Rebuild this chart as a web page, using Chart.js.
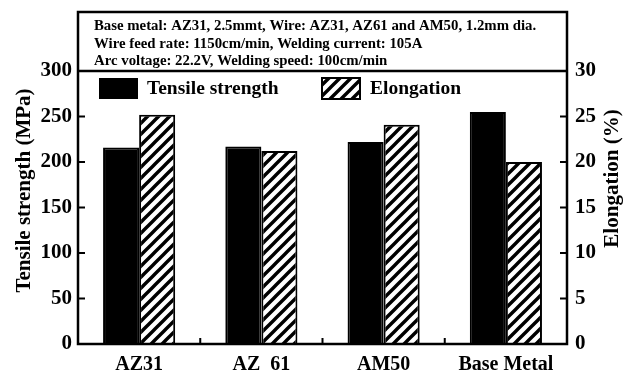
<!DOCTYPE html>
<html>
<head>
<meta charset="utf-8">
<script src="https://cdn.jsdelivr.net/npm/chart.js@4.4.1/dist/chart.umd.min.js"></script>
<style>
  html, body { margin: 0; padding: 0; background: #fff; }
  #weldChart { display: block; }
</style>
</head>
<body>
<canvas id="weldChart" width="631" height="370"></canvas>
<script>
// data
const wireTypes = ['AZ31', 'AZ  61', 'AM50', 'Base Metal'];
const tensileStrength = [216, 217, 222, 255];   // MPa, left axis
const elongation = [25.2, 21.2, 24.1, 20.0];    // %, right axis
const strengthTicks = [0, 50, 100, 150, 200, 250, 300];
const elongationTicks = [0, 5, 10, 15, 20, 25, 30];
const noteLines = [
  'Base metal: AZ31, 2.5mmt, Wire: AZ31, AZ61 and AM50, 1.2mm dia.',
  'Wire feed rate: 1150cm/min, Welding current: 105A',
  'Arc voltage: 22.2V, Welding speed: 100cm/min'
];

const serif = "'Liberation Serif', 'Times New Roman', serif";

// diagonal hatch for the elongation bars
function makeHatch() {
  const size = 11;
  const c = document.createElement('canvas');
  c.width = size; c.height = size;
  const g = c.getContext('2d');
  g.fillStyle = '#fff';
  g.fillRect(0, 0, size, size);
  g.strokeStyle = '#000';
  g.lineWidth = 3.4;
  g.beginPath();
  g.moveTo(-size / 2, size / 2); g.lineTo(size / 2, -size / 2);
  g.moveTo(0, size); g.lineTo(size, 0);
  g.moveTo(size / 2, size * 1.5); g.lineTo(size * 1.5, size / 2);
  g.stroke();
  return g.createPattern(c, 'repeat');
}

const ctx = document.getElementById('weldChart').getContext('2d');
const hatch = makeHatch();

// frame, inward ticks, note box, legend and axis titles
const decorPlugin = {
  id: 'decor',
  afterDraw(chart) {
    const c = chart.ctx;
    const a = chart.chartArea;
    const x = chart.scales.x, y = chart.scales.y, y1 = chart.scales.y1;
    const boxTop = a.top - 59;
    c.save();
    c.strokeStyle = '#000';
    c.lineWidth = 2.5;
    c.strokeRect(a.left, boxTop, a.right - a.left, a.bottom - boxTop);
    c.beginPath();
    c.moveTo(a.left, a.top); c.lineTo(a.right, a.top);
    c.stroke();

    // inward tick marks
    c.lineWidth = 2;
    c.beginPath();
    strengthTicks.forEach(v => {
      const py = y.getPixelForValue(v);
      c.moveTo(a.left, py); c.lineTo(a.left + 7, py);
    });
    elongationTicks.forEach(v => {
      const py = y1.getPixelForValue(v);
      c.moveTo(a.right, py); c.lineTo(a.right - 7, py);
    });
    for (let i = 1; i < wireTypes.length; i++) {
      const px = (x.getPixelForValue(i - 1) + x.getPixelForValue(i)) / 2;
      c.moveTo(px, a.bottom); c.lineTo(px, a.bottom - 6);
    }
    c.stroke();

    // note text
    c.fillStyle = '#000';
    c.font = 'bold 14.8px ' + serif;
    c.textBaseline = 'middle';
    c.textAlign = 'left';
    noteLines.forEach((t, i) => c.fillText(t, a.left + 16, boxTop + 14.5 + i * 17.5));

    // legend
    const ds = chart.data.datasets;
    const legY = a.top + 7;
    c.fillStyle = ds[0].backgroundColor;
    c.fillRect(a.left + 21, legY, 39, 21);
    c.fillStyle = ds[1].backgroundColor;
    c.fillRect(a.left + 244, legY, 38, 21);
    c.lineWidth = 2;
    c.strokeRect(a.left + 244, legY, 38, 21);
    c.fillStyle = '#000';
    c.font = 'bold 19.5px ' + serif;
    c.fillText(ds[0].label, a.left + 69, legY + 11);
    c.fillText(ds[1].label, a.left + 292, legY + 11);

    // axis titles
    c.font = 'bold 21px ' + serif;
    c.textAlign = 'center';
    const midY = (a.top + a.bottom) / 2;
    c.save();
    c.translate(a.left - 53, midY - 17);
    c.rotate(-Math.PI / 2);
    c.fillText('Tensile strength (MPa)', 0, 0);
    c.restore();
    c.save();
    c.translate(a.right + 46, midY - 29);
    c.rotate(-Math.PI / 2);
    c.fillText('Elongation (%)', 0, 0);
    c.restore();
    c.restore();
  }
};

const weldChart = new Chart(ctx, {
  type: 'bar',
  data: {
    labels: wireTypes,
    datasets: [
      {
        label: 'Tensile strength',
        data: tensileStrength,
        yAxisID: 'y',
        backgroundColor: '#000',
        borderColor: '#000',
        borderWidth: 2
      },
      {
        label: 'Elongation',
        data: elongation,
        yAxisID: 'y1',
        backgroundColor: hatch,
        borderColor: '#000',
        borderWidth: 2
      }
    ]
  },
  options: {
    responsive: false,
    animation: false,
    categoryPercentage: 0.59,
    barPercentage: 1.0,
    layout: { padding: { top: 71, left: 0, right: 0, bottom: 0 } },
    scales: {
      x: {
        grid: { display: false, drawTicks: false },
        border: { display: false },
        ticks: {
          color: '#000',
          padding: 9,
          maxRotation: 0,
          autoSkip: false,
          font: { family: serif, size: 20, weight: 'bold' }
        },
        afterFit(scale) { scale.height = 26; }
      },
      y: {
        position: 'left',
        min: 0,
        max: 300,
        grid: { display: false, drawTicks: false },
        border: { display: false },
        ticks: {
          stepSize: 50,
          color: '#000',
          padding: 6,
          font: { family: serif, size: 21, weight: 'bold' }
        },
        afterFit(scale) { scale.width = 78; }
      },
      y1: {
        position: 'right',
        min: 0,
        max: 30,
        grid: { display: false, drawTicks: false },
        border: { display: false },
        ticks: {
          stepSize: 5,
          color: '#000',
          padding: 8,
          font: { family: serif, size: 21, weight: 'bold' }
        },
        afterFit(scale) { scale.width = 64; }
      }
    },
    plugins: {
      legend: { display: false },
      tooltip: { enabled: false }
    }
  },
  plugins: [decorPlugin]
});
</script>
</body>
</html>
